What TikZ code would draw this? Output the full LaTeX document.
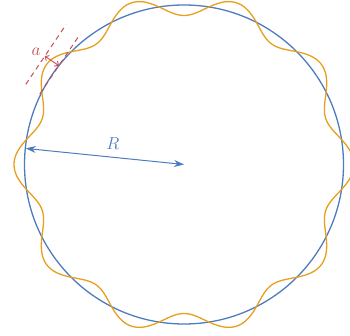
\documentclass[tikz,border=0pt]{standalone}
\usepackage{tikz}
\usetikzlibrary{arrows.meta,calc}
\definecolor{ringblue}{HTML}{4F7BBF}
\definecolor{waveorange}{HTML}{E69F1E}
\definecolor{markred}{HTML}{C44E52}
\tikzset{
  guide/.style={markred, line width=1pt, dash pattern=on 5pt off 4pt},
}
\begin{document}
\begin{tikzpicture}[x=1pt,y=1pt]
                \useasboundingbox (-184,-171.5) rectangle (166,164.5);
                \fontsize{18}{21}\selectfont
                \coordinate (O) at (0,0);
                % Circle
                \draw[ringblue, line width=1.3pt] (O) circle (159.5);
                % Perturbed ring
                \draw[waveorange, line width=1.3pt, domain=0:360, samples=401, smooth]
                    plot (\x:{159.5+10.5*cos(10*\x)}) -- cycle;
                % Radius
                \coordinate (rim) at (174.2:159);
                \draw[ringblue, line width=1pt, {Stealth[length=10pt,width=7pt]}-{Stealth[length=10pt,width=7pt]}] (rim) -- (O);
                \node[ringblue] (Rlabel) at (-71,21) {$R$};
                % Amplitude
                \coordinate (outA) at ($(146:176)+(236:22)$);
                \coordinate (outB) at ($(146:176)+(56:50)$);
                \coordinate (inA) at ($(146:159)+(236:22)$);
                \coordinate (inB) at ($(146:159)+(56:50)$);
                \draw[guide] (outA) -- (outB);
                \draw[guide] (inA) -- (inB);
                \coordinate (ampout) at ($(146:176)+(56:12)$);
                \coordinate (ampin) at ($(146:159)+(56:12)$);
                \draw[markred, line width=0.9pt, {Straight Barb[length=3pt]}-{Straight Barb[length=3pt]}] (ampout) -- (ampin);
                \node[markred] (alabel) at ($(146:186)+(56:11)$) {$a$};
            \end{tikzpicture}
\end{document}
